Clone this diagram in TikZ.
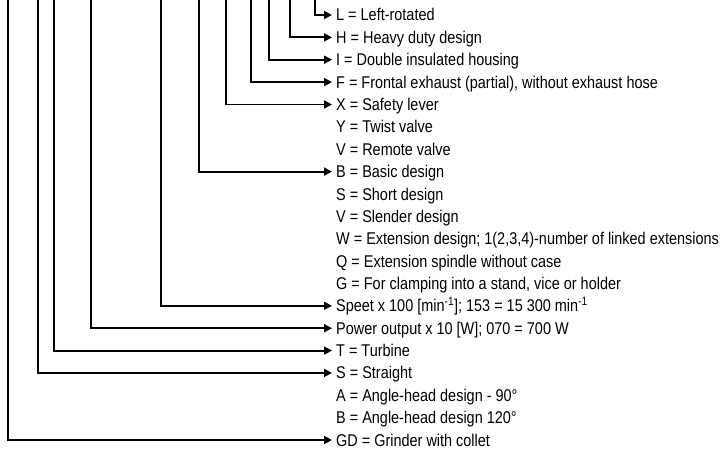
\documentclass[tikz,border=0pt]{standalone}
\usepackage{fontspec}
\setmainfont{Liberation Sans}[FakeStretch=0.85]
\usetikzlibrary{arrows.meta}

\begin{document}
\begin{tikzpicture}[
  x=1pt, y=-1pt,
  font=\fontsize{17}{20}\selectfont,
  entry/.style={
    anchor=west,
    inner sep=0pt,
    text height=12pt,
    text depth=0pt
  },
  arrow/.style={-{Triangle[length=8pt, width=8pt]}, line width=1.8pt}
]

  \useasboundingbox (0,0) rectangle (726,452);

  \node[entry] (left)      at (336,15.0)  {L = Left-rotated};
  \node[entry] (heavy)     at (336,37.4)  {H = Heavy duty design};
  \node[entry] (insulated) at (336,59.7)  {I = Double insulated housing};
  \node[entry] (frontal)   at (336,82.1)  {F = Frontal exhaust (partial), without exhaust hose};
  \node[entry] (lever)     at (336,104.5) {X = Safety lever};
  \node[entry] (twist)     at (336,126.9) {Y = Twist valve};
  \node[entry] (remote)    at (336,149.2) {V = Remote valve};
  \node[entry] (basic)     at (336,171.6) {B = Basic design};
  \node[entry] (short)     at (336,194.0) {S = Short design};
  \node[entry] (slender)   at (336,216.3) {V = Slender design};
  \node[entry] (extension) at (336,238.7) {W = Extension design; 1(2,3,4)-number of linked extensions};
  \node[entry] (spindle)   at (336,261.1) {Q = Extension spindle without case};
  \node[entry] (clamping)  at (336,283.4) {G = For clamping into a stand, vice or holder};
  \node[entry] (speed)     at (336,305.8) {Speet x 100 [min\textsuperscript{-1}]; 153 = 15 300 min\textsuperscript{-1}};
  \node[entry] (power)     at (336,328.2) {Power output x 10 [W]; 070 = 700 W};
  \node[entry] (turbine)   at (336,350.6) {T = Turbine};
  \node[entry] (straight)  at (336,372.9) {S = Straight};
  \node[entry] (angleA)    at (336,395.3) {A = Angle-head design - 90°};
  \node[entry] (angleB)    at (336,417.7) {B = Angle-head design 120°};
  \node[entry] (grinder)   at (336,440.0) {GD = Grinder with collet};

  \coordinate (GDTop)    at (8,0);
  \coordinate (STop)     at (37.7,0);
  \coordinate (TTop)     at (54,0);
  \coordinate (PowerTop) at (90.7,0);
  \coordinate (SpeedTop) at (161,0);
  \coordinate (BTop)     at (199,0);
  \coordinate (XTop)     at (226,0);
  \coordinate (FTop)     at (250.7,0);
  \coordinate (ITop)     at (269,0);
  \coordinate (HTop)     at (290,0);
  \coordinate (LTop)     at (315,0);

  \draw[arrow] (LTop)     |- ([xshift=-4pt]left.west);
  \draw[arrow] (HTop)     |- ([xshift=-4pt]heavy.west);
  \draw[arrow] (ITop)     |- ([xshift=-4pt]insulated.west);
  \draw[arrow] (FTop)     |- ([xshift=-4pt]frontal.west);
  \draw[arrow] (XTop)     |- ([xshift=-4pt]lever.west);
  \draw[arrow] (BTop)     |- ([xshift=-4pt]basic.west);
  \draw[arrow] (SpeedTop) |- ([xshift=-4pt]speed.west);
  \draw[arrow] (PowerTop) |- ([xshift=-4pt]power.west);
  \draw[arrow] (TTop)     |- ([xshift=-4pt]turbine.west);
  \draw[arrow] (STop)     |- ([xshift=-4pt]straight.west);
  \draw[arrow] (GDTop)    |- ([xshift=-4pt]grinder.west);

\end{tikzpicture}
\end{document}
